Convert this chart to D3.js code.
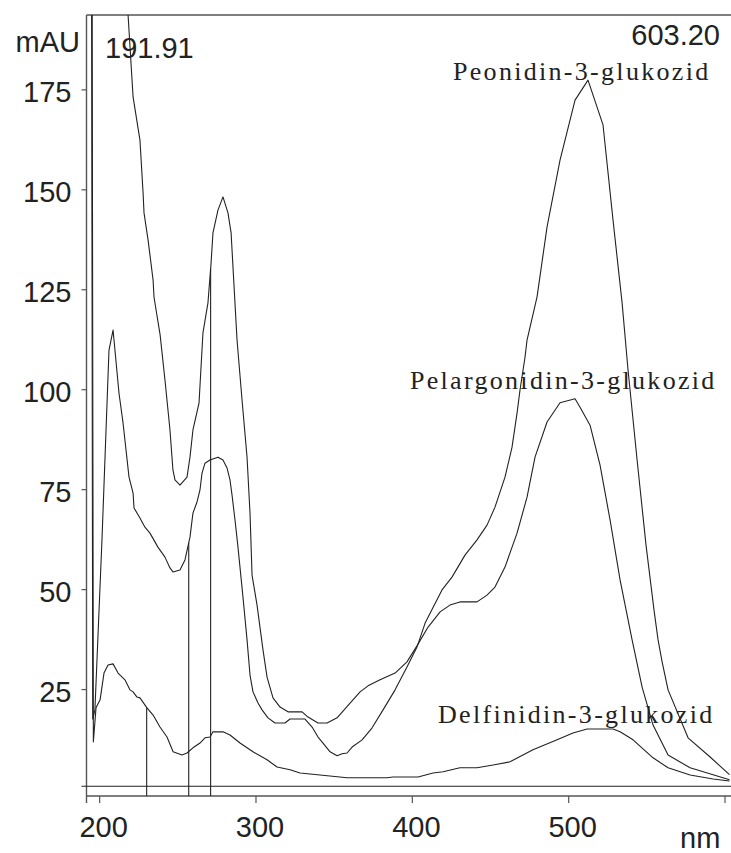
<!DOCTYPE html>
<html>
<head>
<meta charset="utf-8">
<script src="https://cdn.jsdelivr.net/npm/d3@7"></script>
<style>
  html, body { margin: 0; padding: 0; background: #fff; }
  svg { display: block; }
</style>
</head>
<body>
<svg id="chart" width="731" height="853"></svg>
<script>
// UV-Vis spectra of three anthocyanins: [wavelength nm, absorbance mAU]
const peonidin = [
  [191.91, 240], [195.0, 240], [195.9, 17.5], [197.3, 19.8], [201.8, 62.3], [206.3, 109.8],
  [208.9, 114.8], [212.7, 99.0], [215.3, 91.5], [219.1, 78.0], [221.7, 74.0], [222.3, 70.3],
  [226.1, 67.8], [229.3, 65.5], [232.5, 64.0], [237.6, 60.5], [242.1, 58.0], [245.3, 55.3],
  [247.2, 54.3], [251.7, 54.8], [254.9, 57.3], [258.1, 63.0], [260.0, 69.0], [262.6, 71.8],
  [264.5, 74.8], [265.8, 79.0], [267.7, 81.5], [270.9, 82.3], [276.0, 83.0], [279.2, 82.3],
  [281.8, 80.3], [283.7, 77.3], [285.0, 73.5], [286.9, 67.3], [288.8, 60.5], [292.0, 48.0],
  [294.6, 37.3], [296.5, 28.5], [298.4, 24.3], [301.6, 21.5], [304.2, 19.8], [308.0, 17.8],
  [312.5, 16.5], [318.9, 16.5], [322.1, 17.5], [331.7, 17.5], [336.2, 15.5], [340.0, 13.0],
  [343.2, 11.5], [347.7, 9.3], [352.2, 8.3], [355.4, 8.8], [358.6, 9.0], [361.8, 10.5],
  [368.2, 12.3], [374.6, 15.3], [381.6, 19.8], [389.3, 24.8], [396.9, 30.5], [403.3, 35.5],
  [408.5, 41.5], [419.3, 49.8], [425.7, 53.0], [434.0, 58.5], [441.7, 62.3], [448.1, 66.0],
  [453.2, 70.5], [459.6, 78.0], [464.1, 85.5], [467.3, 94.0], [469.2, 99.8], [472.4, 108.0],
  [473.7, 112.3], [480.1, 123.1], [486.5, 140.6], [494.8, 157.3], [504.4, 172.3], [512.7, 177.3],
  [522.3, 166.1], [528.7, 142.3], [534.5, 121.6], [538.3, 104.8], [544.1, 82.3], [549.8, 61.0],
  [554.9, 44.8], [557.5, 37.3], [560.1, 31.8], [563.9, 24.8], [576.7, 12.8], [590.8, 8.0],
  [603.2, 3.6]
];

const pelargonidin = [
  [191.91, 260], [217.0, 205], [218.5, 193.6], [221.7, 173.1], [226.1, 162.3], [228.1, 149.1],
  [228.7, 144.1], [231.3, 137.3], [234.5, 127.3], [235.1, 123.0], [239.0, 113.6], [242.1, 102.3],
  [245.3, 89.8], [247.2, 79.8], [248.5, 77.3], [251.7, 76.0], [256.2, 78.0], [258.1, 83.0],
  [260.0, 89.8], [263.9, 96.6], [266.4, 114.1], [269.6, 121.6], [271.6, 131.6], [272.8, 139.1],
  [276.0, 144.8], [279.2, 148.1], [282.4, 144.1], [284.4, 139.1], [285.6, 130.6], [288.2, 112.3],
  [291.4, 97.3], [294.6, 83.0], [296.5, 69.0], [297.8, 53.5], [301.0, 46.0], [304.8, 34.8],
  [307.4, 28.0], [311.2, 22.8], [315.7, 20.5], [320.8, 19.3], [329.8, 19.3], [333.6, 18.0],
  [340.0, 16.5], [345.8, 16.5], [352.2, 17.8], [360.5, 21.5], [366.9, 24.3], [372.0, 25.8],
  [379.7, 27.3], [389.3, 29.0], [396.9, 31.8], [403.3, 35.8], [410.4, 40.5], [418.1, 44.3],
  [424.4, 46.0], [430.8, 46.8], [441.7, 46.8], [448.1, 48.5], [453.2, 50.5], [459.6, 55.5],
  [467.3, 64.0], [473.7, 73.0], [478.8, 83.0], [486.5, 91.8], [494.8, 96.6], [504.4, 97.6],
  [507.6, 95.5], [514.0, 91.0], [520.4, 81.0], [526.8, 67.3], [533.2, 52.3], [540.9, 37.3],
  [547.3, 25.5], [554.3, 16.0], [563.9, 8.5], [578.0, 5.3], [603.2, 2.3]
];

const delfinidin = [
  [191.91, 250], [195.3, 250], [196.3, 11.8], [198.0, 20.3], [200.6, 22.3], [203.1, 29.0],
  [205.7, 31.0], [208.9, 31.3], [212.1, 29.0], [216.5, 27.3], [219.7, 24.8], [221.7, 24.3],
  [224.2, 23.0], [226.1, 22.8], [230.6, 20.3], [234.5, 18.5], [238.9, 15.5], [243.4, 13.0],
  [247.3, 9.3], [253.0, 8.5], [256.2, 9.0], [260.0, 10.3], [264.5, 11.5], [267.7, 12.8],
  [270.9, 13.0], [272.8, 14.3], [279.2, 14.3], [283.7, 13.5], [290.1, 11.5], [298.4, 9.3],
  [307.4, 7.3], [313.8, 5.5], [322.1, 4.8], [328.5, 4.0], [341.3, 3.5], [358.6, 2.8],
  [384.2, 2.8], [388.0, 3.0], [404.0, 3.0], [413.6, 4.0], [420.0, 4.3], [430.8, 5.3],
  [441.7, 5.3], [452.0, 6.0], [462.8, 6.8], [477.5, 9.8], [492.9, 12.3], [503.1, 14.0],
  [512.1, 15.0], [528.7, 15.0], [533.2, 14.3], [541.5, 12.3], [554.3, 7.8], [563.9, 5.3],
  [578.0, 3.5], [592.7, 2.5], [603.2, 2.0]
];

const seriesNames = ["Peonidin-3-glukozid", "Pelargonidin-3-glukozid", "Delfinidin-3-glukozid"];
const seriesData = [peonidin, pelargonidin, delfinidin];

// wavelength markers dropped from the axis to a spectrum (index into seriesData)
const markerWavelengths = [230.4, 257.3, 271.3];
const markerSeries = [2, 0, 1];

const xRange = [191.91, 603.20];
const yTicks = [25, 50, 75, 100, 125, 150, 175];
const xTicks = [200, 300, 400, 500, 600];
const xTickLabels = ["200", "300", "400", "500", ""];
const baselineValue = 0.7;

(function draw() {
  const svg = d3.select("#chart");
  const plotLeft = 86.5, plotTop = 15, plotBottom = 796, plotRight = 729.5;
  const ink = "#222", axisInk = "#555";
  const sans = "'Liberation Sans', Arial, Helvetica, sans-serif";
  const serif = "'Liberation Serif', 'Times New Roman', serif";

  const x = d3.scaleLinear().domain(xRange).range([plotLeft, plotRight]);
  const y = d3.scaleLinear().domain([-1.75, 193.6]).range([plotBottom, plotTop]);

  svg.append("defs").append("clipPath").attr("id", "plot-clip")
    .append("rect").attr("x", plotLeft).attr("y", plotTop)
    .attr("width", 731 - plotLeft).attr("height", plotBottom - plotTop);

  // frame
  svg.append("line").attr("x1", plotLeft).attr("x2", 731).attr("y1", plotTop).attr("y2", plotTop)
    .attr("stroke", axisInk).attr("stroke-width", 1.4);
  svg.append("line").attr("x1", plotLeft).attr("x2", plotLeft).attr("y1", plotTop).attr("y2", plotBottom + 7)
    .attr("stroke", axisInk).attr("stroke-width", 1.4);
  svg.append("line").attr("x1", plotLeft).attr("x2", 731).attr("y1", plotBottom).attr("y2", plotBottom)
    .attr("stroke", axisInk).attr("stroke-width", 1.4);

  // y axis
  const yAxis = svg.append("g").attr("transform", `translate(${plotLeft},0)`)
    .call(d3.axisLeft(y).tickValues(yTicks).tickSize(5).tickSizeOuter(0).tickPadding(10));
  yAxis.select(".domain").remove();
  yAxis.selectAll(".tick line").attr("stroke", axisInk).attr("stroke-width", 1.2);
  yAxis.selectAll(".tick text").attr("font-family", sans).attr("font-size", 29)
    .attr("fill", ink).attr("dy", "0.42em");

  // x axis
  const xAxis = svg.append("g").attr("transform", `translate(0,${plotBottom})`)
    .call(d3.axisBottom(x).tickValues(xTicks).tickSize(7).tickSizeOuter(0).tickPadding(13)
      .tickFormat((d, i) => xTickLabels[i]));
  xAxis.select(".domain").remove();
  xAxis.selectAll(".tick line").attr("stroke", axisInk).attr("stroke-width", 1.2);
  xAxis.selectAll(".tick text").attr("font-family", sans).attr("font-size", 29)
    .attr("fill", ink).attr("dx", 4);

  // zero reference line
  svg.append("line").attr("x1", plotLeft - 5).attr("x2", 731)
    .attr("y1", y(baselineValue)).attr("y2", y(baselineValue))
    .attr("stroke", ink).attr("stroke-width", 1.1);

  const plot = svg.append("g").attr("clip-path", "url(#plot-clip)");

  const line = d3.line().x(d => x(d[0])).y(d => y(d[1]));
  plot.selectAll("path.spectrum").data(seriesData).join("path")
    .attr("class", "spectrum")
    .attr("d", line)
    .attr("fill", "none")
    .attr("stroke", ink)
    .attr("stroke-width", 1.1)
    .attr("stroke-linejoin", "round");

  // value of a spectrum at a wavelength (linear interpolation)
  function valueAt(data, nm) {
    const i = d3.bisector(d => d[0]).left(data, nm);
    if (i <= 0) return data[0][1];
    if (i >= data.length) return data[data.length - 1][1];
    const a = data[i - 1], b = data[i];
    return a[1] + (b[1] - a[1]) * (nm - a[0]) / (b[0] - a[0]);
  }

  plot.selectAll("line.marker").data(markerWavelengths).join("line")
    .attr("class", "marker")
    .attr("x1", d => x(d)).attr("x2", d => x(d))
    .attr("y1", y.range()[0])
    .attr("y2", (d, i) => y(valueAt(seriesData[markerSeries[i]], d)))
    .attr("stroke", ink).attr("stroke-width", 1.1);

  // units and range annotations
  svg.append("text").attr("x", 80).attr("y", 52).attr("text-anchor", "end")
    .attr("font-family", sans).attr("font-size", 29).attr("fill", ink).text("mAU");
  svg.append("text").attr("x", 105).attr("y", 58)
    .attr("font-family", sans).attr("font-size", 29).attr("fill", ink).text(xRange[0].toFixed(2));
  svg.append("text").attr("x", 720).attr("y", 45).attr("text-anchor", "end")
    .attr("font-family", sans).attr("font-size", 29).attr("fill", ink).text(xRange[1].toFixed(2));
  svg.append("text").attr("x", 680).attr("y", 848)
    .attr("font-family", sans).attr("font-size", 29).attr("fill", ink).text("nm");

  // compound labels
  const labelPos = [[453, 80], [410, 389], [438, 723]];
  svg.selectAll("text.compound").data(seriesNames).join("text")
    .attr("class", "compound")
    .attr("x", (d, i) => labelPos[i][0])
    .attr("y", (d, i) => labelPos[i][1])
    .attr("font-family", serif).attr("font-size", 26)
    .attr("letter-spacing", 2.3)
    .attr("fill", ink)
    .text(d => d);
})();
</script>
</body>
</html>
